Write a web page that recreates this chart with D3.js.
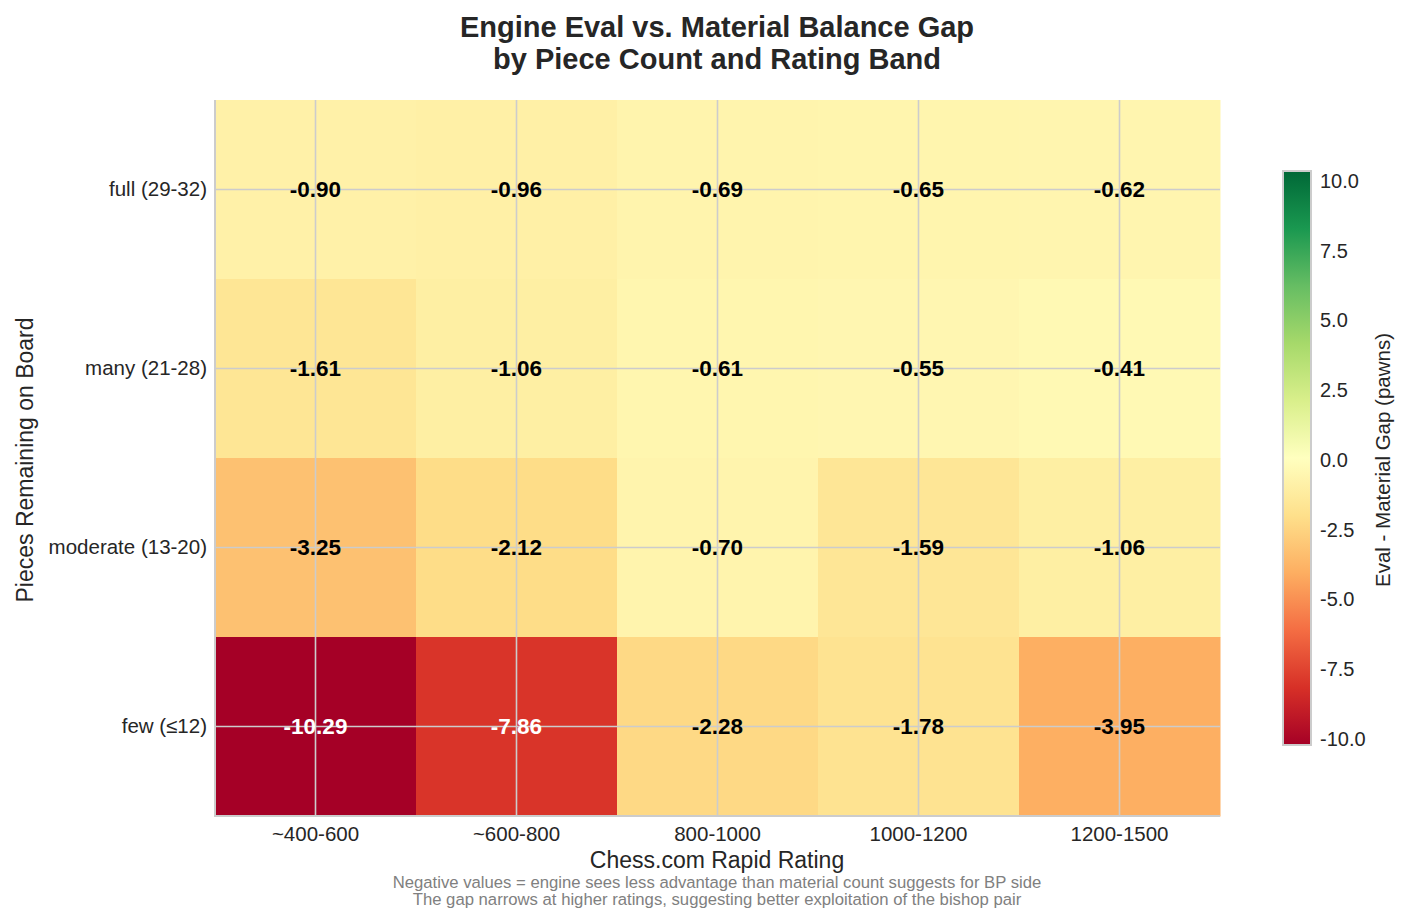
<!DOCTYPE html>
<html><head><meta charset="utf-8">
<script src="https://cdn.jsdelivr.net/npm/d3@7"></script>
<style>body{margin:0;background:#fff;} text{font-family:"Liberation Sans",Arial,sans-serif;}</style>
</head><body>
<svg id="chart" width="1409" height="921"></svg>
<script>
const ratingBands = ["~400-600","~600-800","800-1000","1000-1200","1200-1500"];
const pieceBands = ["full (29-32)","many (21-28)","moderate (13-20)","few (\u226412)"];
const gapFull = [-0.90,-0.96,-0.69,-0.65,-0.62];
const gapMany = [-1.61,-1.06,-0.61,-0.55,-0.41];
const gapModerate = [-3.25,-2.12,-0.70,-1.59,-1.06];
const gapFew = [-10.29,-7.86,-2.28,-1.78,-3.95];
const colorbarTicks = [-10,-7.5,-5,-2.5,0,2.5,5,7.5,10];
const rdylgn = ["#a50026","#d73027","#f46d43","#fdae61","#fee08b","#ffffbf","#d9ef8b","#a6d96a","#66bd63","#1a9850","#006837"];

const rows = [gapFull,gapMany,gapModerate,gapFew];
const cells = [];
rows.forEach((r,i)=>r.forEach((v,j)=>cells.push({row:pieceBands[i],col:ratingBands[j],v})));

const svg = d3.select("#chart");
const M = {l:215,r:1220,t:100,b:816};
const x = d3.scaleBand().domain(ratingBands).range([M.l,M.r]);
const y = d3.scaleBand().domain(pieceBands).range([M.t,M.b]);
const color = d3.scaleLinear().domain(d3.range(11).map(i=>-10+2*i)).range(rdylgn).clamp(true);
const TXT = "#262626";

svg.append("g").selectAll("rect").data(cells).join("rect")
  .attr("x",d=>x(d.col)).attr("y",d=>y(d.row))
  .attr("width",x.bandwidth()+0.5).attr("height",y.bandwidth()+0.5)
  .attr("fill",d=>color(d.v));

// grid
const grid = svg.append("g").attr("stroke","#cccccc").attr("stroke-width",1.6);
ratingBands.forEach(c=>grid.append("line").attr("x1",x(c)+x.bandwidth()/2).attr("x2",x(c)+x.bandwidth()/2).attr("y1",M.t).attr("y2",M.b));
pieceBands.forEach(r=>grid.append("line").attr("y1",y(r)+y.bandwidth()/2).attr("y2",y(r)+y.bandwidth()/2).attr("x1",M.l).attr("x2",M.r));
// spines
svg.append("line").attr("x1",M.l).attr("x2",M.l).attr("y1",M.t).attr("y2",M.b+1).attr("stroke","#cccccc").attr("stroke-width",2);
svg.append("line").attr("x1",M.l).attr("x2",M.r).attr("y1",M.b).attr("y2",M.b).attr("stroke","#cccccc").attr("stroke-width",2);

// annotations
const ann = svg.append("g").selectAll("text").data(cells).join("text")
  .attr("x",d=>x(d.col)+x.bandwidth()/2).attr("y",d=>y(d.row)+y.bandwidth()/2)
  .attr("text-anchor","middle").attr("dominant-baseline","central")
  .attr("font-size",22.5).attr("font-weight","bold")
  .style("font-family","'Liberation Sans Narrow','Liberation Sans',Arial,sans-serif")
  .attr("fill",d=>Math.abs(d.v)>5?"#ffffff":"#000000")
  .text(d=>d.v.toFixed(2));
ann.each(function(){
  const w = this.getComputedTextLength();
  const n = this.textContent.length;
  if (w > 2.6*22.5*(n/5)) { d3.select(this).attr("textLength", w*0.82).attr("lengthAdjust","spacingAndGlyphs"); }
});

// axes
const xAxis = d3.axisBottom(x).tickSize(0).tickPadding(10);
const gx = svg.append("g").attr("transform",`translate(0,${M.b})`).call(xAxis);
gx.select(".domain").remove();
gx.selectAll("text").attr("font-size",20.5).attr("fill",TXT).attr("font-family","Liberation Sans, Arial, sans-serif");
const yAxis = d3.axisLeft(y).tickSize(0).tickPadding(8);
const gy = svg.append("g").attr("transform",`translate(${M.l},0)`).call(yAxis);
gy.select(".domain").remove();
gy.selectAll("text").attr("font-size",20.5).attr("fill",TXT).attr("font-family","Liberation Sans, Arial, sans-serif");

// titles
svg.append("text").attr("x",717).attr("y",37).attr("text-anchor","middle").attr("font-size",29).attr("font-weight","bold").attr("fill",TXT).text("Engine Eval vs. Material Balance Gap");
svg.append("text").attr("x",717).attr("y",69).attr("text-anchor","middle").attr("font-size",29).attr("font-weight","bold").attr("fill",TXT).text("by Piece Count and Rating Band");
svg.append("text").attr("x",717).attr("y",868).attr("text-anchor","middle").attr("font-size",23).attr("fill",TXT).text("Chess.com Rapid Rating");
svg.append("text").attr("transform","translate(33,460) rotate(-90)").attr("text-anchor","middle").attr("font-size",23).attr("fill",TXT).text("Pieces Remaining on Board");
svg.append("text").attr("x",717).attr("y",888).attr("text-anchor","middle").attr("font-size",16.7).attr("fill","#808080").text("Negative values = engine sees less advantage than material count suggests for BP side");
svg.append("text").attr("x",717).attr("y",905).attr("text-anchor","middle").attr("font-size",16.7).attr("fill","#808080").text("The gap narrows at higher ratings, suggesting better exploitation of the bishop pair");

// colorbar
const cb = {x:1283,w:28,t:171,b:745};
const defs = svg.append("defs");
const grad = defs.append("linearGradient").attr("id","cbg").attr("x1",0).attr("x2",0).attr("y1",1).attr("y2",0);
rdylgn.forEach((c,i)=>grad.append("stop").attr("offset",i/10).attr("stop-color",c));
svg.append("rect").attr("x",cb.x).attr("y",cb.t).attr("width",cb.w).attr("height",cb.b-cb.t).attr("fill","url(#cbg)").attr("stroke","#cccccc").attr("stroke-width",2);
const cyLab = d3.scaleLinear().domain([-10,10]).range([739,181]);
const cAxis = d3.axisRight(cyLab).tickValues(colorbarTicks).tickSize(0).tickPadding(9).tickFormat(d=>d3.format(".1f")(d).replace("\u2212","-"));
const gc = svg.append("g").attr("transform",`translate(${cb.x+cb.w},0)`).call(cAxis);
gc.select(".domain").remove();
gc.selectAll("text").attr("font-size",20).attr("fill",TXT).attr("font-family","Liberation Sans, Arial, sans-serif");
svg.append("text").attr("transform","translate(1390,460) rotate(-90)").attr("text-anchor","middle").attr("font-size",20.5).attr("fill",TXT).text("Eval - Material Gap (pawns)");
</script>
</body></html>
